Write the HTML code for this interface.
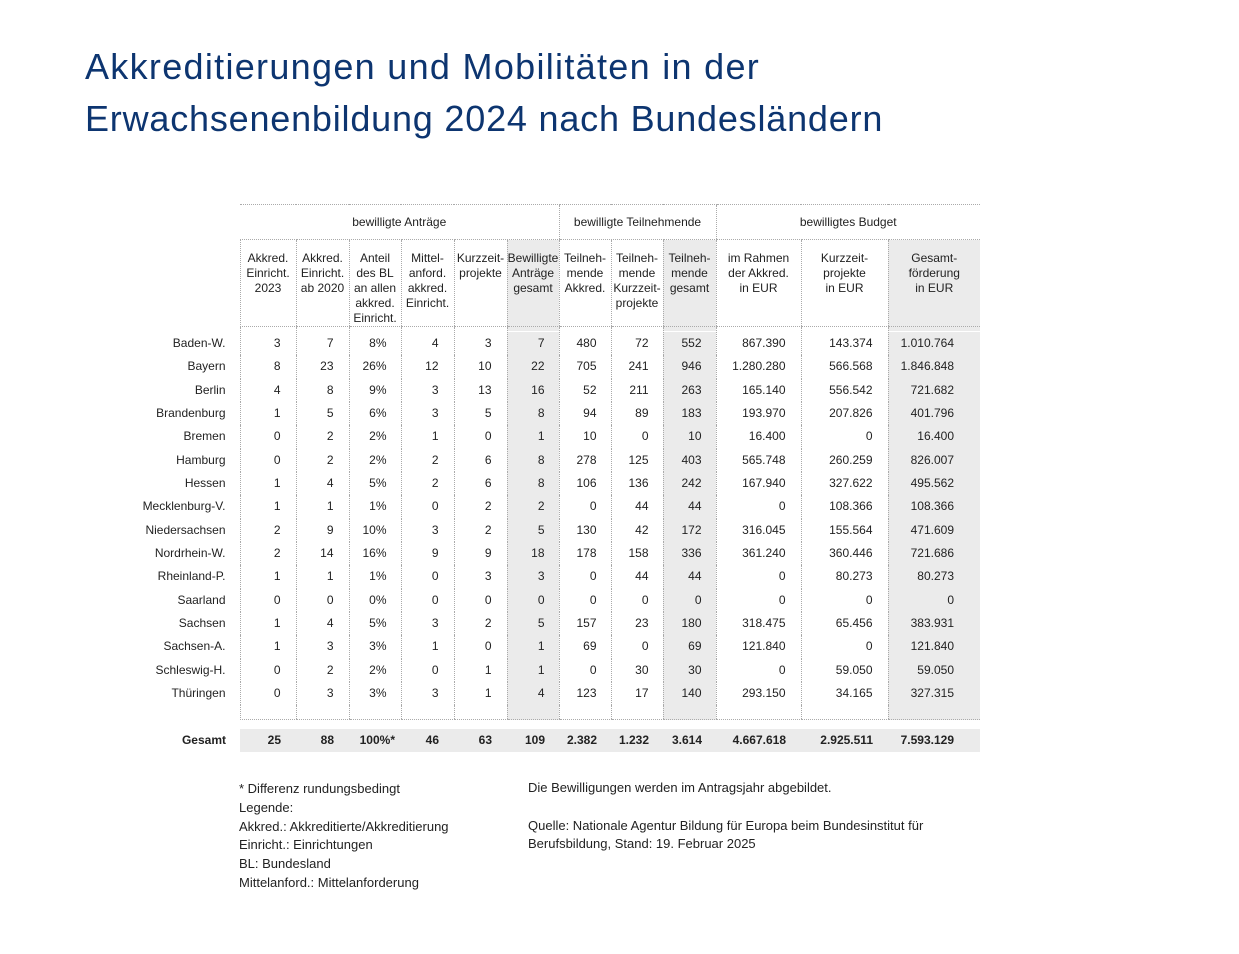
<!DOCTYPE html>
<html><head><meta charset="utf-8">
<style>
body{margin:0;width:1239px;height:954px;background:#fff;font-family:"Liberation Sans",sans-serif;color:#222;position:relative;overflow:hidden}
h1{position:absolute;left:85px;top:41px;margin:0;font-weight:normal;font-size:36px;line-height:52px;color:#0d3570;letter-spacing:1px}
table{position:absolute;left:130px;top:204px;border-collapse:collapse;table-layout:fixed;font-size:12px}
td{padding:0;white-space:nowrap}
.d{border-left:1px dotted #aaa;text-align:right}
.g{background:#ebebeb}
.grp td.h{border-top:1px dotted #aaa;border-bottom:1px dotted #aaa;text-align:center;height:34px}
.hdr td{height:87px;vertical-align:top;text-align:center;line-height:15px;padding-top:11px;box-sizing:border-box;border-bottom:1px dotted #aaa}
.hdr td.l{border-bottom:none}
.b td{height:23.33px}
.b td.l,.t td.l{text-align:right;padding-right:14px}
.sp td{height:4px}
.sp2 td{height:14px;border-bottom:1px dotted #aaa}
.sp2 td.l,.gap td{border-bottom:none}
.gap td{height:9px;border-left:none}
.t td{height:23px;font-weight:bold;text-align:right}
.t td.d{border-left:none;background:#ebebeb}
.note{position:absolute;font-size:13px;line-height:18.8px;color:#222}
</style></head><body>
<h1><span style="letter-spacing:1.3px">Akkreditierungen und Mobilitäten in der</span><br><span style="letter-spacing:0.8px">Erwachsenenbildung 2024 nach Bundesländern</span></h1>
<table>
<colgroup><col style="width:110px"><col style="width:56px"><col style="width:53px"><col style="width:52px"><col style="width:53px"><col style="width:53px"><col style="width:52px"><col style="width:52px"><col style="width:52px"><col style="width:53px"><col style="width:85px"><col style="width:87px"><col style="width:92px"></colgroup>
<tr class="grp"><td></td><td class="h" colspan="6">bewilligte Anträge</td><td class="h" colspan="3" style="border-left:1px dotted #aaa">bewilligte Teilnehmende</td><td class="h" colspan="3" style="border-left:1px dotted #aaa">bewilligtes Budget</td></tr>
<tr class="hdr"><td class="l"></td>
<td class="d" style="text-align:center">Akkred.<br>Einricht.<br>2023</td>
<td class="d" style="text-align:center">Akkred.<br>Einricht.<br>ab 2020</td>
<td class="d" style="text-align:center">Anteil<br>des BL<br>an allen<br>akkred.<br>Einricht.</td>
<td class="d" style="text-align:center">Mittel-<br>anford.<br>akkred.<br>Einricht.</td>
<td class="d" style="text-align:center">Kurzzeit-<br>projekte</td>
<td class="d g" style="text-align:center">Bewilligte<br>Anträge<br>gesamt</td>
<td class="d" style="text-align:center">Teilneh-<br>mende<br>Akkred.</td>
<td class="d" style="text-align:center">Teilneh-<br>mende<br>Kurzzeit-<br>projekte</td>
<td class="d g" style="text-align:center">Teilneh-<br>mende<br>gesamt</td>
<td class="d" style="text-align:center">im Rahmen<br>der Akkred.<br>in EUR</td>
<td class="d" style="text-align:center">Kurzzeit-<br>projekte<br>in EUR</td>
<td class="d g" style="text-align:center">Gesamt-<br>förderung<br>in EUR</td></tr>
<tr class="sp"><td class="l"></td><td class="d"></td><td class="d"></td><td class="d"></td><td class="d"></td><td class="d"></td><td class="d g"></td><td class="d"></td><td class="d"></td><td class="d g"></td><td class="d"></td><td class="d"></td><td class="d g"></td></tr>
</table>
<table id="body" style="top:332px">
<colgroup><col style="width:110px"><col style="width:56px"><col style="width:53px"><col style="width:52px"><col style="width:53px"><col style="width:53px"><col style="width:52px"><col style="width:52px"><col style="width:52px"><col style="width:53px"><col style="width:85px"><col style="width:87px"><col style="width:92px"></colgroup>
<tbody style="line-height:23px">
<tr class="b"><td class="l">Baden-W.</td><td class="d" style="padding-right:15px">3</td><td class="d" style="padding-right:15px">7</td><td class="d" style="padding-right:14px">8%</td><td class="d" style="padding-right:15px">4</td><td class="d" style="padding-right:15px">3</td><td class="d g" style="padding-right:14px">7</td><td class="d" style="padding-right:14px">480</td><td class="d" style="padding-right:14px">72</td><td class="d g" style="padding-right:14px">552</td><td class="d" style="padding-right:15px">867.390</td><td class="d" style="padding-right:15px">143.374</td><td class="d g" style="padding-right:26px">1.010.764</td></tr>
<tr class="b"><td class="l">Bayern</td><td class="d" style="padding-right:15px">8</td><td class="d" style="padding-right:15px">23</td><td class="d" style="padding-right:14px">26%</td><td class="d" style="padding-right:15px">12</td><td class="d" style="padding-right:15px">10</td><td class="d g" style="padding-right:14px">22</td><td class="d" style="padding-right:14px">705</td><td class="d" style="padding-right:14px">241</td><td class="d g" style="padding-right:14px">946</td><td class="d" style="padding-right:15px">1.280.280</td><td class="d" style="padding-right:15px">566.568</td><td class="d g" style="padding-right:26px">1.846.848</td></tr>
<tr class="b"><td class="l">Berlin</td><td class="d" style="padding-right:15px">4</td><td class="d" style="padding-right:15px">8</td><td class="d" style="padding-right:14px">9%</td><td class="d" style="padding-right:15px">3</td><td class="d" style="padding-right:15px">13</td><td class="d g" style="padding-right:14px">16</td><td class="d" style="padding-right:14px">52</td><td class="d" style="padding-right:14px">211</td><td class="d g" style="padding-right:14px">263</td><td class="d" style="padding-right:15px">165.140</td><td class="d" style="padding-right:15px">556.542</td><td class="d g" style="padding-right:26px">721.682</td></tr>
<tr class="b"><td class="l">Brandenburg</td><td class="d" style="padding-right:15px">1</td><td class="d" style="padding-right:15px">5</td><td class="d" style="padding-right:14px">6%</td><td class="d" style="padding-right:15px">3</td><td class="d" style="padding-right:15px">5</td><td class="d g" style="padding-right:14px">8</td><td class="d" style="padding-right:14px">94</td><td class="d" style="padding-right:14px">89</td><td class="d g" style="padding-right:14px">183</td><td class="d" style="padding-right:15px">193.970</td><td class="d" style="padding-right:15px">207.826</td><td class="d g" style="padding-right:26px">401.796</td></tr>
<tr class="b"><td class="l">Bremen</td><td class="d" style="padding-right:15px">0</td><td class="d" style="padding-right:15px">2</td><td class="d" style="padding-right:14px">2%</td><td class="d" style="padding-right:15px">1</td><td class="d" style="padding-right:15px">0</td><td class="d g" style="padding-right:14px">1</td><td class="d" style="padding-right:14px">10</td><td class="d" style="padding-right:14px">0</td><td class="d g" style="padding-right:14px">10</td><td class="d" style="padding-right:15px">16.400</td><td class="d" style="padding-right:15px">0</td><td class="d g" style="padding-right:26px">16.400</td></tr>
<tr class="b"><td class="l">Hamburg</td><td class="d" style="padding-right:15px">0</td><td class="d" style="padding-right:15px">2</td><td class="d" style="padding-right:14px">2%</td><td class="d" style="padding-right:15px">2</td><td class="d" style="padding-right:15px">6</td><td class="d g" style="padding-right:14px">8</td><td class="d" style="padding-right:14px">278</td><td class="d" style="padding-right:14px">125</td><td class="d g" style="padding-right:14px">403</td><td class="d" style="padding-right:15px">565.748</td><td class="d" style="padding-right:15px">260.259</td><td class="d g" style="padding-right:26px">826.007</td></tr>
<tr class="b"><td class="l">Hessen</td><td class="d" style="padding-right:15px">1</td><td class="d" style="padding-right:15px">4</td><td class="d" style="padding-right:14px">5%</td><td class="d" style="padding-right:15px">2</td><td class="d" style="padding-right:15px">6</td><td class="d g" style="padding-right:14px">8</td><td class="d" style="padding-right:14px">106</td><td class="d" style="padding-right:14px">136</td><td class="d g" style="padding-right:14px">242</td><td class="d" style="padding-right:15px">167.940</td><td class="d" style="padding-right:15px">327.622</td><td class="d g" style="padding-right:26px">495.562</td></tr>
<tr class="b"><td class="l">Mecklenburg-V.</td><td class="d" style="padding-right:15px">1</td><td class="d" style="padding-right:15px">1</td><td class="d" style="padding-right:14px">1%</td><td class="d" style="padding-right:15px">0</td><td class="d" style="padding-right:15px">2</td><td class="d g" style="padding-right:14px">2</td><td class="d" style="padding-right:14px">0</td><td class="d" style="padding-right:14px">44</td><td class="d g" style="padding-right:14px">44</td><td class="d" style="padding-right:15px">0</td><td class="d" style="padding-right:15px">108.366</td><td class="d g" style="padding-right:26px">108.366</td></tr>
<tr class="b"><td class="l">Niedersachsen</td><td class="d" style="padding-right:15px">2</td><td class="d" style="padding-right:15px">9</td><td class="d" style="padding-right:14px">10%</td><td class="d" style="padding-right:15px">3</td><td class="d" style="padding-right:15px">2</td><td class="d g" style="padding-right:14px">5</td><td class="d" style="padding-right:14px">130</td><td class="d" style="padding-right:14px">42</td><td class="d g" style="padding-right:14px">172</td><td class="d" style="padding-right:15px">316.045</td><td class="d" style="padding-right:15px">155.564</td><td class="d g" style="padding-right:26px">471.609</td></tr>
<tr class="b"><td class="l">Nordrhein-W.</td><td class="d" style="padding-right:15px">2</td><td class="d" style="padding-right:15px">14</td><td class="d" style="padding-right:14px">16%</td><td class="d" style="padding-right:15px">9</td><td class="d" style="padding-right:15px">9</td><td class="d g" style="padding-right:14px">18</td><td class="d" style="padding-right:14px">178</td><td class="d" style="padding-right:14px">158</td><td class="d g" style="padding-right:14px">336</td><td class="d" style="padding-right:15px">361.240</td><td class="d" style="padding-right:15px">360.446</td><td class="d g" style="padding-right:26px">721.686</td></tr>
<tr class="b"><td class="l">Rheinland-P.</td><td class="d" style="padding-right:15px">1</td><td class="d" style="padding-right:15px">1</td><td class="d" style="padding-right:14px">1%</td><td class="d" style="padding-right:15px">0</td><td class="d" style="padding-right:15px">3</td><td class="d g" style="padding-right:14px">3</td><td class="d" style="padding-right:14px">0</td><td class="d" style="padding-right:14px">44</td><td class="d g" style="padding-right:14px">44</td><td class="d" style="padding-right:15px">0</td><td class="d" style="padding-right:15px">80.273</td><td class="d g" style="padding-right:26px">80.273</td></tr>
<tr class="b"><td class="l">Saarland</td><td class="d" style="padding-right:15px">0</td><td class="d" style="padding-right:15px">0</td><td class="d" style="padding-right:14px">0%</td><td class="d" style="padding-right:15px">0</td><td class="d" style="padding-right:15px">0</td><td class="d g" style="padding-right:14px">0</td><td class="d" style="padding-right:14px">0</td><td class="d" style="padding-right:14px">0</td><td class="d g" style="padding-right:14px">0</td><td class="d" style="padding-right:15px">0</td><td class="d" style="padding-right:15px">0</td><td class="d g" style="padding-right:26px">0</td></tr>
<tr class="b"><td class="l">Sachsen</td><td class="d" style="padding-right:15px">1</td><td class="d" style="padding-right:15px">4</td><td class="d" style="padding-right:14px">5%</td><td class="d" style="padding-right:15px">3</td><td class="d" style="padding-right:15px">2</td><td class="d g" style="padding-right:14px">5</td><td class="d" style="padding-right:14px">157</td><td class="d" style="padding-right:14px">23</td><td class="d g" style="padding-right:14px">180</td><td class="d" style="padding-right:15px">318.475</td><td class="d" style="padding-right:15px">65.456</td><td class="d g" style="padding-right:26px">383.931</td></tr>
<tr class="b"><td class="l">Sachsen-A.</td><td class="d" style="padding-right:15px">1</td><td class="d" style="padding-right:15px">3</td><td class="d" style="padding-right:14px">3%</td><td class="d" style="padding-right:15px">1</td><td class="d" style="padding-right:15px">0</td><td class="d g" style="padding-right:14px">1</td><td class="d" style="padding-right:14px">69</td><td class="d" style="padding-right:14px">0</td><td class="d g" style="padding-right:14px">69</td><td class="d" style="padding-right:15px">121.840</td><td class="d" style="padding-right:15px">0</td><td class="d g" style="padding-right:26px">121.840</td></tr>
<tr class="b"><td class="l">Schleswig-H.</td><td class="d" style="padding-right:15px">0</td><td class="d" style="padding-right:15px">2</td><td class="d" style="padding-right:14px">2%</td><td class="d" style="padding-right:15px">0</td><td class="d" style="padding-right:15px">1</td><td class="d g" style="padding-right:14px">1</td><td class="d" style="padding-right:14px">0</td><td class="d" style="padding-right:14px">30</td><td class="d g" style="padding-right:14px">30</td><td class="d" style="padding-right:15px">0</td><td class="d" style="padding-right:15px">59.050</td><td class="d g" style="padding-right:26px">59.050</td></tr>
<tr class="b"><td class="l">Thüringen</td><td class="d" style="padding-right:15px">0</td><td class="d" style="padding-right:15px">3</td><td class="d" style="padding-right:14px">3%</td><td class="d" style="padding-right:15px">3</td><td class="d" style="padding-right:15px">1</td><td class="d g" style="padding-right:14px">4</td><td class="d" style="padding-right:14px">123</td><td class="d" style="padding-right:14px">17</td><td class="d g" style="padding-right:14px">140</td><td class="d" style="padding-right:15px">293.150</td><td class="d" style="padding-right:15px">34.165</td><td class="d g" style="padding-right:26px">327.315</td></tr>
<tr class="sp2"><td class="l"></td><td class="d"></td><td class="d"></td><td class="d"></td><td class="d"></td><td class="d"></td><td class="d g"></td><td class="d"></td><td class="d"></td><td class="d g"></td><td class="d"></td><td class="d"></td><td class="d g"></td></tr>
<tr class="gap"><td colspan="13"></td></tr>
<tr class="t"><td class="l">Gesamt</td><td class="d" style="padding-right:15px">25</td><td class="d" style="padding-right:15px">88</td><td class="d" style="padding-right:6px">100%*</td><td class="d" style="padding-right:15px">46</td><td class="d" style="padding-right:15px">63</td><td class="d" style="padding-right:14px">109</td><td class="d" style="padding-right:14px">2.382</td><td class="d" style="padding-right:14px">1.232</td><td class="d" style="padding-right:14px">3.614</td><td class="d" style="padding-right:15px">4.667.618</td><td class="d" style="padding-right:15px">2.925.511</td><td class="d" style="padding-right:26px">7.593.129</td></tr>
</tbody></table>
<div class="note" style="left:239px;top:780px">* Differenz rundungsbedingt<br>Legende:<br>Akkred.: Akkreditierte/Akkreditierung<br>Einricht.: Einrichtungen<br>BL: Bundesland<br>Mittelanford.: Mittelanforderung</div>
<div class="note" style="left:528px;top:779px">Die Bewilligungen werden im Antragsjahr abgebildet.<br><br>Quelle: Nationale Agentur Bildung für Europa beim Bundesinstitut für<br>Berufsbildung, Stand: 19. Februar 2025</div>
</body></html>
